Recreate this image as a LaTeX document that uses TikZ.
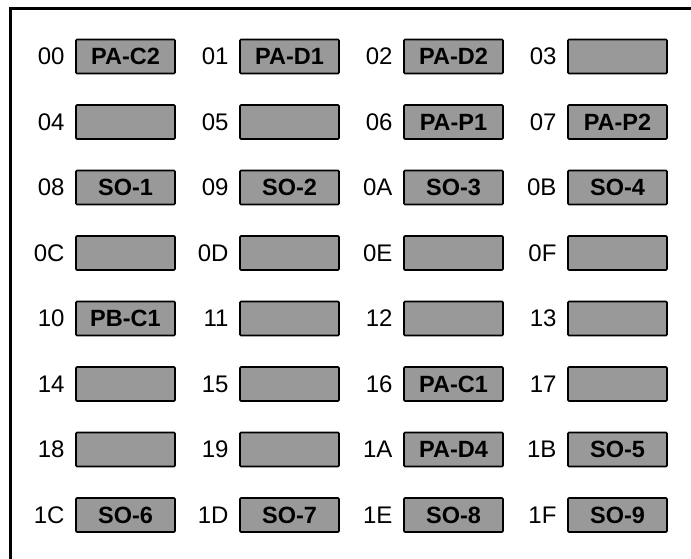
\documentclass[tikz,border=0pt]{standalone}
\usepackage{fontspec}
\setmainfont{Liberation Sans}
\definecolor{slotgray}{RGB}{153,153,153}
\begin{document}
\begin{tikzpicture}[x=1pt,y=-1pt,
  slot/.style={draw=black, line width=1.6pt, fill=slotgray, rounded corners=1pt,
    minimum width=99pt, minimum height=34pt, inner sep=0pt,
    font=\fontsize{23.5}{28}\selectfont\bfseries},
  addr/.style={anchor=east, inner sep=0pt, font=\fontsize{24}{28}\selectfont}]
\useasboundingbox (0,0) rectangle (691,558);
\draw[line width=3pt] (10.5,560) -- (10.5,8) -- (693,8);
\foreach \a/\t [count=\i from 0] in {
  00/PA-C2,01/PA-D1,02/PA-D2,03/,
  04/,05/,06/PA-P1,07/PA-P2,
  08/SO-1,09/SO-2,0A/SO-3,0B/SO-4,
  0C/,0D/,0E/,0F/,
  10/PB-C1,11/,12/,13/,
  14/,15/,16/PA-C1,17/,
  18/,19/,1A/PA-D4,1B/SO-5,
  1C/SO-6,1D/SO-7,1E/SO-8,1F/SO-9}{
  \pgfmathtruncatemacro{\col}{mod(\i,4)}
  \pgfmathtruncatemacro{\row}{div(\i,4)}
  \node[slot] (b\a) at ({125.5+164*\col},{56.5+65.5*\row}) {\t};
  \node[addr] (l\a) at ([xshift=-10.5pt]b\a.west) {\a};
}
\end{tikzpicture}
\end{document}
